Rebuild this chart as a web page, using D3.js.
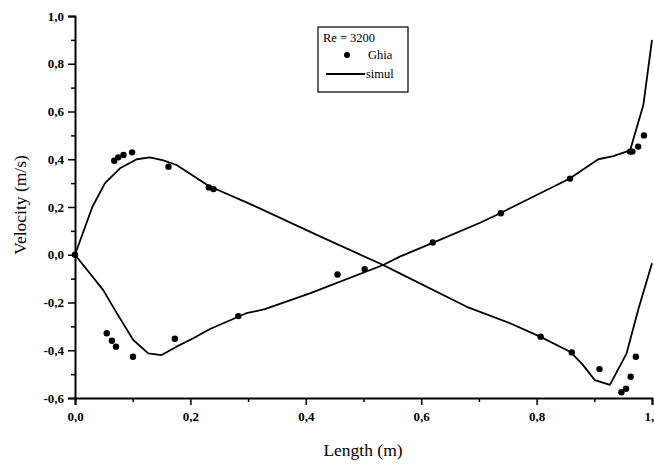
<!DOCTYPE html>
<html>
<head>
<meta charset="utf-8">
<script src="https://cdn.jsdelivr.net/npm/d3@7"></script>
<style>
  html, body { margin: 0; padding: 0; background: #fff; }
  svg { display: block; font-family: "Liberation Serif", "DejaVu Serif", serif; }
</style>
</head>
<body>
<div id="chart"></div>
<script>
// --- Data (Re = 3200 cavity centerlines) ---
// simulated v along horizontal centreline
const simA_x = [0, 0.03, 0.052, 0.078, 0.107, 0.13, 0.153, 0.176, 0.232, 0.303, 0.419, 0.534, 0.563, 0.679, 0.754, 0.806, 0.858, 0.878, 0.901, 0.927, 0.956, 0.976, 1.0];
const simA_y = [0, 0.20, 0.30, 0.362, 0.40, 0.408, 0.395, 0.376, 0.288, 0.213, 0.083, -0.043, -0.078, -0.218, -0.287, -0.343, -0.406, -0.455, -0.525, -0.545, -0.413, -0.231, -0.036];

// simulated u along vertical centreline
const simB_x = [0, 0.049, 0.069, 0.101, 0.127, 0.15, 0.176, 0.205, 0.234, 0.297, 0.329, 0.407, 0.534, 0.563, 0.621, 0.702, 0.737, 0.794, 0.835, 0.858, 0.907, 0.933, 0.962, 0.985, 1.0];
const simB_y = [0, -0.148, -0.231, -0.357, -0.413, -0.42, -0.385, -0.35, -0.311, -0.245, -0.228, -0.162, -0.043, -0.008, 0.051, 0.134, 0.174, 0.243, 0.292, 0.32, 0.40, 0.413, 0.437, 0.627, 0.90];

// Ghia et al. reference points
const ghiaA_x = [0, 0.068, 0.075, 0.084, 0.099, 0.162, 0.232, 0.240, 0.807, 0.861, 0.909, 0.947, 0.955, 0.963, 0.972];
const ghiaA_y = [0, 0.394, 0.408, 0.418, 0.429, 0.369, 0.282, 0.275, -0.343, -0.409, -0.479, -0.576, -0.561, -0.511, -0.427];
const ghiaB_x = [0.055, 0.064, 0.071, 0.1005, 0.173, 0.283, 0.455, 0.502, 0.62, 0.738, 0.858, 0.962, 0.966, 0.976, 0.986];
const ghiaB_y = [-0.329, -0.36, -0.385, -0.427, -0.352, -0.257, -0.083, -0.060, 0.051, 0.174, 0.319, 0.432, 0.432, 0.453, 0.50];

const xMajor = [0, 0.2, 0.4, 0.6, 0.8, 1.0];
const xMinor = [0.1, 0.3, 0.5, 0.7, 0.9];
const yMajor = [-0.6, -0.4, -0.2, 0, 0.2, 0.4, 0.6, 0.8, 1.0];
const yMinor = [-0.5, -0.3, -0.1, 0.1, 0.3, 0.5, 0.7, 0.9];

const legendTitle = "Re = 3200";
const legendLabels = ["Ghia", "simul"];

const width = 654, height = 464;
const x = d3.scaleLinear().domain([0, 1]).range([75, 652]);
const y = d3.scaleLinear().domain([-0.6, 1.0]).range([398, 16]);

const loc = d3.formatLocale({ decimal: ",", thousands: ".", grouping: [3], currency: ["", ""], minus: "-" });
const fmt = loc.format(".1f");

const svg = d3.select("#chart").append("svg")
  .attr("width", width).attr("height", height);

// --- Axes ---
svg.append("g").attr("transform", `translate(0,${y(-0.6)})`)
  .call(d3.axisBottom(x).tickValues(xMajor).tickFormat(fmt).tickSize(7).tickPadding(7));
svg.append("g").attr("transform", `translate(0,${y(-0.6)})`)
  .call(d3.axisBottom(x).tickValues(xMinor).tickFormat("").tickSize(4))
  .call(g => g.select(".domain").remove());

svg.append("g").attr("transform", `translate(${x(0)},0)`)
  .call(d3.axisLeft(y).tickValues(yMajor).tickFormat(fmt).tickSize(7).tickPadding(4));
svg.append("g").attr("transform", `translate(${x(0)},0)`)
  .call(d3.axisLeft(y).tickValues(yMinor).tickFormat("").tickSize(4))
  .call(g => g.select(".domain").remove());

svg.selectAll(".domain").attr("stroke", "#000").attr("stroke-width", 2);
svg.selectAll(".tick line").attr("stroke", "#000").attr("stroke-width", 1.5);
svg.selectAll(".tick text")
  .attr("fill", "#000")
  .style("font-family", "'Liberation Serif', serif")
  .style("font-size", "13px")
  .style("font-weight", "bold");

// axis titles
svg.append("text")
  .attr("x", 363).attr("y", 456)
  .attr("text-anchor", "middle")
  .style("font-size", "17.5px")
  .text("Length (m)");

svg.append("text")
  .attr("transform", "translate(26,205) rotate(-90)")
  .attr("text-anchor", "middle")
  .style("font-size", "17.5px")
  .text("Velocity (m/s)");

// --- Simulation lines ---
const line = d3.line().x(d => x(d[0])).y(d => y(d[1]));
const simA = simA_x.map((v, i) => [v, simA_y[i]]);
const simB = simB_x.map((v, i) => [v, simB_y[i]]);

svg.append("g").selectAll("path")
  .data([simA, simB])
  .join("path")
  .attr("d", line)
  .attr("fill", "none")
  .attr("stroke", "#000")
  .attr("stroke-width", 1.8)
  .attr("stroke-linejoin", "round");

// --- Ghia points ---
const ghia = ghiaA_x.map((v, i) => [v, ghiaA_y[i]])
  .concat(ghiaB_x.map((v, i) => [v, ghiaB_y[i]]));

svg.append("g").selectAll("circle")
  .data(ghia)
  .join("circle")
  .attr("cx", d => x(d[0]))
  .attr("cy", d => y(d[1]))
  .attr("r", 3.2)
  .attr("fill", "#000");

// --- Legend ---
const lg = svg.append("g");
lg.append("rect")
  .attr("x", 318).attr("y", 27).attr("width", 90).attr("height", 65)
  .attr("fill", "#fff").attr("stroke", "#000").attr("stroke-width", 1.2);
lg.append("text")
  .attr("x", 349).attr("y", 42)
  .attr("text-anchor", "middle")
  .style("font-size", "12.5px")
  .text(legendTitle);
lg.append("circle").attr("cx", 347).attr("cy", 55).attr("r", 3).attr("fill", "#000");
lg.append("text")
  .attr("x", 368).attr("y", 59)
  .style("font-size", "12.5px")
  .text(legendLabels[0]);
lg.append("line")
  .attr("x1", 326).attr("x2", 365).attr("y1", 74).attr("y2", 74)
  .attr("stroke", "#000").attr("stroke-width", 1.8);
lg.append("text")
  .attr("x", 366).attr("y", 78)
  .style("font-size", "12.5px")
  .text(legendLabels[1]);
</script>
</body>
</html>
